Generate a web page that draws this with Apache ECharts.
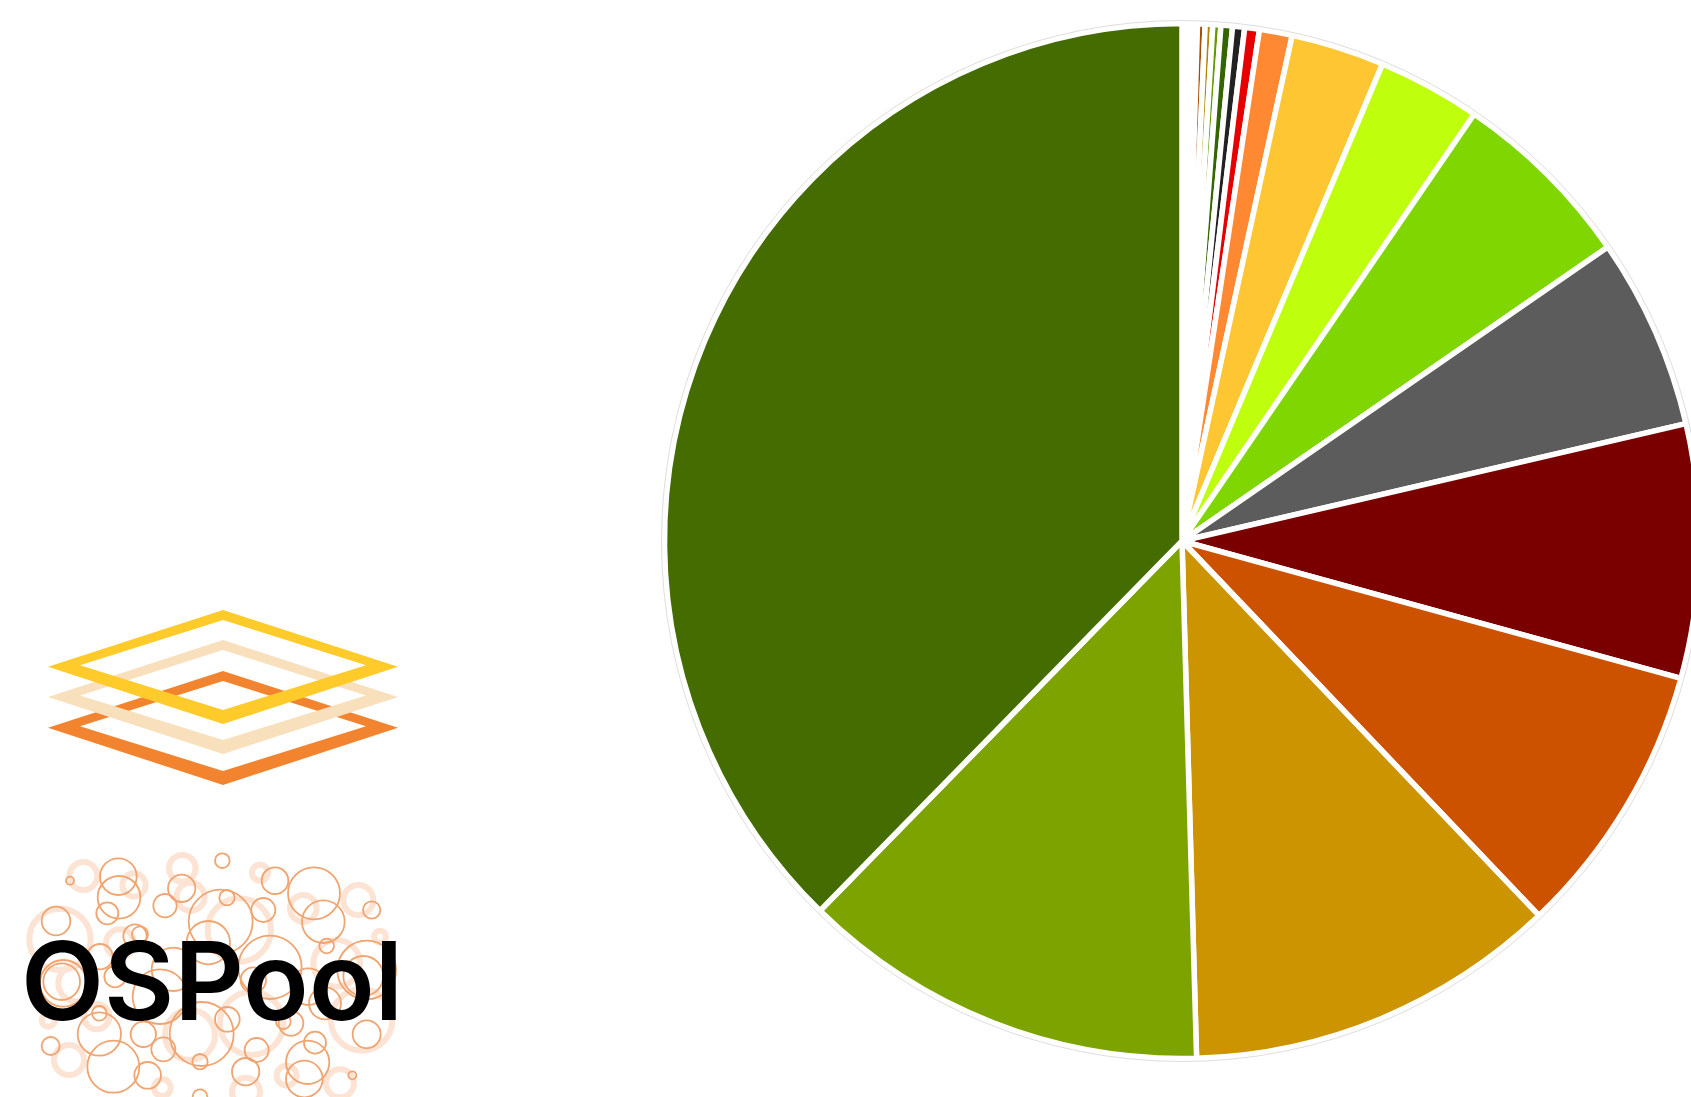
<!DOCTYPE html>
<html>
<head>
<meta charset="utf-8">
<title>OSPool usage share</title>
<style>
  html, body { margin: 0; padding: 0; background: #fff; overflow: hidden; }
  #chart { width: 1691px; height: 1097px; }
</style>
<script src="https://cdn.jsdelivr.net/npm/echarts@6/dist/echarts.min.js"></script>
</head>
<body>
<div id="chart"></div>
<script>
// Slice shares in percent, clockwise from twelve o'clock.
const sliceShares = [0.478, 0.236, 0.236, 0.25, 0.361, 0.375, 0.458, 1.022, 2.917, 3.22, 5.83, 5.975, 7.92, 8.605, 11.67, 12.78, 37.67];
const sliceColors = ['#ffffff', '#a64b00', '#b38600', '#669900', '#336600', '#222222', '#e60000', '#ff8833',
  '#ffc633', '#bfff0d', '#7fd600', '#5c5c5c', '#7a0000', '#cc5200', '#cc9400', '#7ca300', '#446c00'];

// Stacked-diamond emblem: outer and inner outlines share the same horizontal extent per layer.
const emblemLayers = [
  { color: '#f28430', top: 671, mid: 727.7, bottom: 785 },
  { color: '#f9e0bd', top: 640, mid: 697, bottom: 754 },
  { color: '#ffcb2b', top: 610, mid: 666.7, bottom: 724 }
];

// Bubble cloud behind the wordmark: [x, y, r] in a 3x working grid.
const thinBubbles = [
  [210,122,12],[355,110,55],[357,172,64],[322,220,33],[168,243,43],[405,288,35],[420,283,24],[545,145,41],
  [495,197,35],[662,245,96],[681,173,23],[667,62,22],[825,122,40],[790,210,36],[942,160,78],[970,245,64],
  [1115,210,26],[980,318,22],[625,308,65],[810,382,95],[1100,390,88],[1090,408,60],[190,430,70],[185,425,55],
  [300,350,38],[345,410,32],[520,388,65],[480,470,82],[298,520,22],[298,582,65],[430,583,38],[490,628,36],
  [605,582,96],[682,538,37],[600,665,23],[770,630,36],[737,695,41],[340,680,78],[443,706,40],[152,618,27],
  [850,545,22],[873,550,37],[945,608,33],[923,667,65],[913,717,55],[1057,706,12],[1100,583,42],[975,490,48],
  [925,440,55],[760,420,38],[600,770,22]
];
const paleBubbles = [
  [250,108,42],[402,135,35],[547,85,40],[780,98,24],[572,170,42],[718,270,95],[910,205,40],[1075,180,45],
  [180,298,92],[360,310,42],[1140,290,18],[1010,370,70],[230,430,55],[145,540,20],[290,530,38],[570,585,75],
  [755,550,95],[1085,540,92],[207,660,45],[487,743,25],[738,755,42],[860,707,30],[1020,730,42]
];

// One polygon traces the outer diamond, then the inner one in reverse, leaving a hole.
function ringPoints(layer) {
  const cx = 223, left = 48, right = 398, il = 80, ir = 366;
  return [
    [left, layer.mid], [cx, layer.top], [right, layer.mid], [cx, layer.bottom], [left, layer.mid],
    [il, layer.mid - 1.5], [cx, layer.bottom - 14], [ir, layer.mid - 1.5], [cx, layer.top + 10], [il, layer.mid - 1.5]
  ];
}

const emblem = emblemLayers.map(layer => ({
  type: 'polygon',
  silent: true,
  shape: { points: ringPoints(layer) },
  style: { fill: layer.color }
}));

const toBubble = ([x, y, r], stroke, lineWidth) => ({
  type: 'circle',
  silent: true,
  shape: { cx: x / 3, cy: 840 + y / 3, r: r / 3 },
  style: { fill: 'none', stroke, lineWidth }
});

const chart = echarts.init(document.getElementById('chart'), null, { renderer: 'canvas' });
chart.setOption({
  animation: false,
  backgroundColor: '#ffffff',
  graphic: [
    { type: 'circle', silent: true, z: 5, shape: { cx: 1182, cy: 541, r: 520.5 }, style: { fill: 'none', stroke: '#dedede', lineWidth: 1 } },
    ...emblem,
    ...paleBubbles.map(b => toBubble(b, '#fce3d4', 6)),
    ...thinBubbles.map(b => toBubble(b, '#f0a46f', 1.8)),
    {
      type: 'text',
      silent: true,
      style: {
        x: 21, y: 1041.5,
        text: 'OSPool',
        font: '600 108px Inter, "Liberation Sans", sans-serif',
        fill: '#000000',
        textAlign: 'left',
        textVerticalAlign: 'bottom'
      }
    }
  ],
  series: [{
    type: 'pie',
    center: [1182, 541],
    radius: [0, 517.5],
    startAngle: 90,
    clockwise: true,
    label: { show: false },
    labelLine: { show: false },
    silent: true,
    itemStyle: { borderColor: '#ffffff', borderWidth: 5.5 },
    data: sliceShares.map((value, i) => ({ value, itemStyle: { color: sliceColors[i] } }))
  }]
});
</script>
</body>
</html>
